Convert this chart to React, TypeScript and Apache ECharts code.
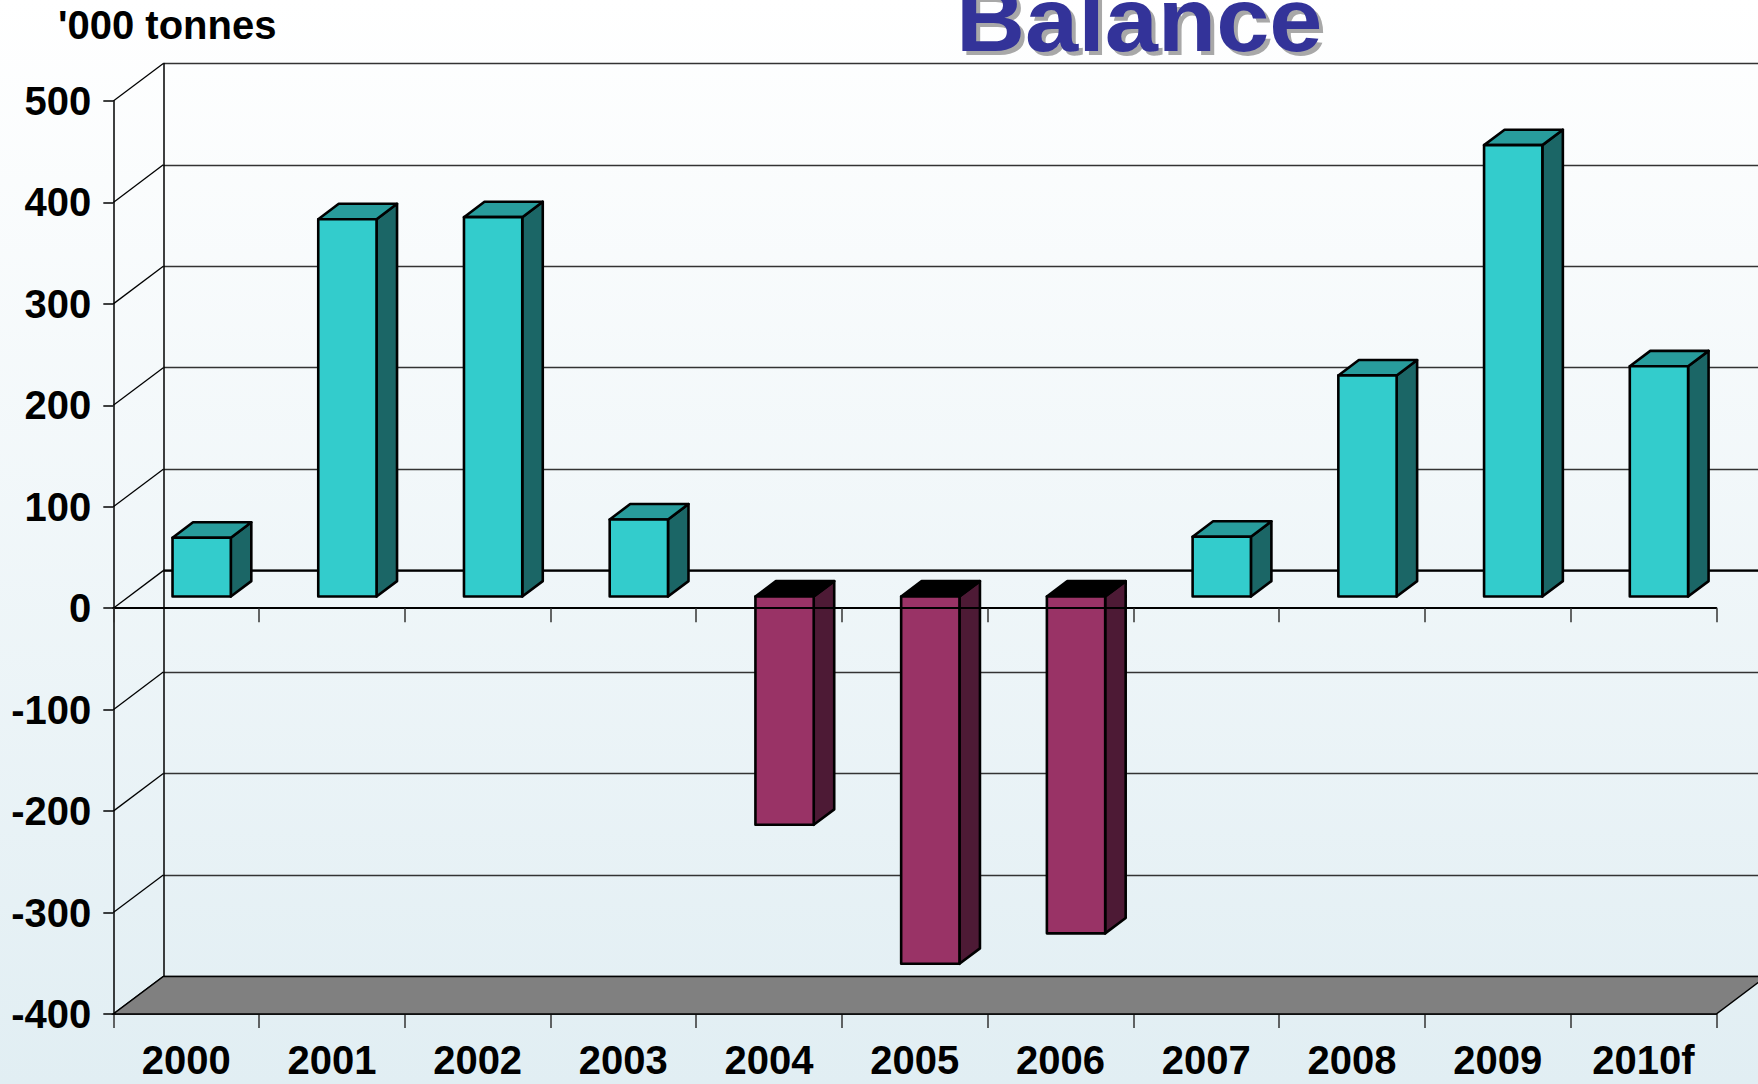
import React, { useEffect, useRef } from "react";
import * as echarts from "echarts";

const categories = ["2000", "2001", "2002", "2003", "2004", "2005", "2006", "2007", "2008", "2009", "2010f"];
const balance = [58, 372, 374, 76, -225, -362, -332, 59, 218, 445, 227];
const yTicks = [-400, -300, -200, -100, 0, 100, 200, 300, 400, 500];
const Y_MIN = -400;
const Y_MAX = 500;
const Y_STEP = 100;

const DX = 50;
const DY = 37.6;
const FRONT = 0.31;
const DEPTH = 0.41;
const BARW = 0.4;
const FONT = "Liberation Sans, Arial, Helvetica, sans-serif";

export default function App() {
  const ref = useRef<HTMLDivElement>(null);
  useEffect(() => {
    if (!ref.current) return;
    const chart = echarts.init(ref.current, undefined, { renderer: "svg" });
    const option: any = {
      animation: false,
      backgroundColor: {
        type: "linear",
        x: 0, y: 0, x2: 0, y2: 1,
        colorStops: [
          { offset: 0, color: "#ffffff" },
          { offset: 1, color: "#e1eef3" },
        ],
      },
      grid: [
        { left: 113.3, top: 101, width: 1603, height: 913, outerBoundsMode: "none", containLabel: false },
        { left: 113.3 + DX, top: 101 - DY, width: 1603, height: 913, outerBoundsMode: "none", containLabel: false },
      ],
      xAxis: [
        {
          type: "category", gridIndex: 0, data: categories, position: "bottom",
          axisLine: { onZero: false, lineStyle: { color: "#000", width: 1.5 } },
          axisTick: { show: true, length: 14, lineStyle: { color: "#333", width: 1.5 } },
          axisLabel: { show: true, interval: 0, margin: 26, color: "#000", fontSize: 40, fontWeight: "bold", fontFamily: FONT },
          splitLine: { show: false },
        },
        {
          type: "category", gridIndex: 0, data: categories, position: "bottom", z: 6,
          axisLine: { onZero: true, lineStyle: { color: "#000", width: 2 } },
          axisTick: { show: true, length: 14, lineStyle: { color: "#333", width: 1.5 } },
          axisLabel: { show: false },
          splitLine: { show: false },
        },
        {
          type: "category", gridIndex: 1, data: categories, show: false,
        },
      ],
      yAxis: [
        {
          type: "value", gridIndex: 0, min: Y_MIN, max: Y_MAX, interval: Y_STEP,
          axisLine: { show: true, lineStyle: { color: "#000", width: 1.5 } },
          axisTick: { show: true, length: 10, lineStyle: { color: "#000", width: 1.5 } },
          axisLabel: { margin: 22, color: "#000", fontSize: 40, fontWeight: "bold", fontFamily: FONT },
          splitLine: { show: false },
        },
        {
          type: "value", gridIndex: 1, min: Y_MIN, max: Y_MAX, interval: Y_STEP,
          axisLine: { show: true, lineStyle: { color: "#000", width: 1.5 } },
          axisTick: { show: false },
          axisLabel: { show: false },
          splitLine: { show: true, lineStyle: { color: "#333", width: 1.3 } },
        },
      ],
      graphic: [
        {
          type: "text", x: 960, y: 24, scaleX: 1.05, z: 10,
          style: { text: "Balance", fill: "#a8a8a8", font: `bold 91px ${FONT}`, textVerticalAlign: "middle" },
        },
        {
          type: "text", x: 956, y: 20, scaleX: 1.05, z: 11,
          style: { text: "Balance", fill: "#333399", font: `bold 91px ${FONT}`, textVerticalAlign: "middle" },
        },
        {
          type: "text", x: 58, y: 24.5, z: 10,
          style: { text: "'000 tonnes", fill: "#000", font: `bold 40px ${FONT}`, textVerticalAlign: "middle" },
        },
      ],
      series: [
        {
          type: "custom", xAxisIndex: 2, yAxisIndex: 1, z: 1,
          data: [[0, 0]],
          renderItem: (params: any, api: any) => {
            const cs = params.coordSys;
            const p = api.coord([0, 0]);
            return {
              type: "line",
              shape: { x1: cs.x, y1: p[1], x2: cs.x + cs.width, y2: p[1] },
              style: { stroke: "#000", lineWidth: 2.4 },
            };
          },
        },
        {
          type: "custom", xAxisIndex: 0, yAxisIndex: 0, z: 1,
          data: yTicks.map((v) => [0, v]),
          renderItem: (params: any, api: any) => {
            const cs = params.coordSys;
            const p = api.coord([0, api.value(1)]);
            return {
              type: "line",
              shape: { x1: cs.x, y1: p[1], x2: cs.x + DX, y2: p[1] - DY },
              style: { stroke: "#000", lineWidth: 1.3 },
            };
          },
        },
        {
          type: "custom", xAxisIndex: 0, yAxisIndex: 0, z: 2,
          data: [[0, Y_MIN]],
          renderItem: (params: any, api: any) => {
            const cs = params.coordSys;
            const y = api.coord([0, api.value(1)])[1];
            return {
              type: "polygon",
              shape: { points: [[cs.x, y], [cs.x + cs.width, y], [cs.x + cs.width + DX, y - DY], [cs.x + DX, y - DY]] },
              style: { fill: "#808080", stroke: "#000", lineWidth: 1.5 },
            };
          },
        },
        {
          type: "custom", xAxisIndex: 0, yAxisIndex: 0, z: 4,
          data: categories.map((c, i) => [i, balance[i]]),
          renderItem: (params: any, api: any) => {
            const i = api.value(0);
            const v = api.value(1);
            const base = api.coord([i, 0]);
            const tip = api.coord([i, v]);
            const band = api.size([1, 0])[0];
            const w = band * BARW;
            const ox = FRONT * DX;
            const oy = FRONT * DY;
            const xl = base[0] - w / 2 + ox;
            const xr = xl + w;
            const y0 = base[1] - oy;
            const y1 = tip[1] - oy;
            const yt = Math.min(y0, y1);
            const yb = Math.max(y0, y1);
            const bx = DEPTH * DX;
            const by = DEPTH * DY;
            const pos = v >= 0;
            const front = pos ? "#33cccc" : "#993366";
            const top = pos ? "#289c9c" : "#000000";
            const side = pos ? "#1b6666" : "#4d1a35";
            const st = { stroke: "#000", lineWidth: 2.6, lineJoin: "round" };
            return {
              type: "group",
              children: [
                { type: "polygon", shape: { points: [[xr, yt], [xr + bx, yt - by], [xr + bx, yb - by], [xr, yb]] }, style: { ...st, fill: side } },
                { type: "polygon", shape: { points: [[xl, yt], [xr, yt], [xr + bx, yt - by], [xl + bx, yt - by]] }, style: { ...st, fill: top } },
                { type: "rect", shape: { x: xl, y: yt, width: w, height: yb - yt }, style: { ...st, fill: front } },
              ],
            };
          },
        },
      ],
    };
    chart.setOption(option);
    return () => chart.dispose();
  }, []);
  return <div ref={ref} style={{ position: "fixed", left: 0, top: 0, width: 1758, height: 1084 }} />;
}
